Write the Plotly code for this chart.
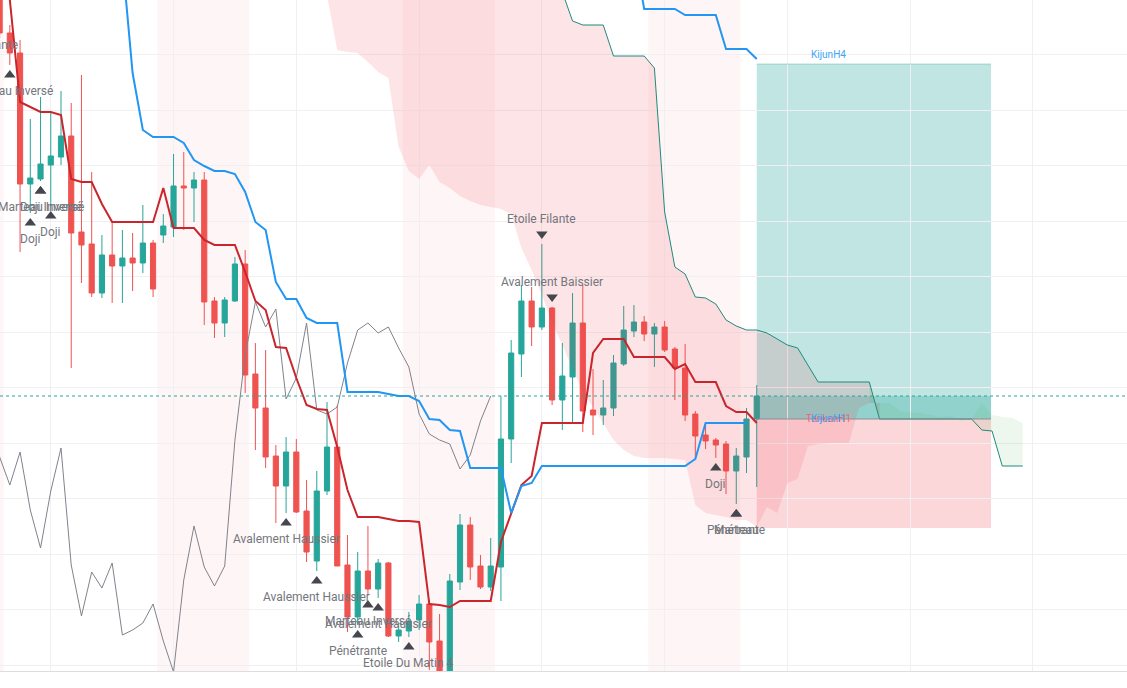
import plotly.graph_objects as go

# candle index: 0 = first full candle on the left edge (H1 candles)
idx = list(range(-2, 74))

opens = [748, 698, 655, 635, 504, 509, 523, 531, 552, 456, 444, 395, 433, 422, 430, 425,
         445, 453, 461, 502, 500, 508, 387, 365, 387, 424, 314, 280, 232, 202, 236, 177,
         127, 197, 241, 123, 71, 117, 99, 125, 52, 57, 68, 84, 47, 3, 106, 163,
         122, 101, 121, 249, 334, 387, 361, 380, 288, 311, 365, 278, 273, 280, 324, 357,
         366, 354, 361, 339, 320, 274, 253, 248, 244, 217, 231, 269]
highs = [768, 708, 663, 648, 569, 591, 575, 597, 585, 613, 516, 453, 466, 458, 455, 483,
         448, 474, 534, 536, 516, 516, 391, 391, 431, 438, 345, 338, 243, 251, 249, 208,
         217, 286, 283, 153, 136, 162, 129, 126, 65, 76, 93, 88, 74, 114, 174, 171,
         133, 150, 292, 348, 403, 401, 444, 381, 345, 395, 403, 319, 308, 333, 382, 383,
         372, 365, 367, 341, 344, 277, 264, 250, 247, 240, 280, 303]
lows = [669, 650, 623, 436, 475, 507, 482, 523, 320, 405, 391, 390, 385, 385, 397, 415,
        391, 445, 451, 458, 466, 363, 350, 351, 386, 295, 238, 220, 165, 175, 175, 126,
        117, 193, 122, 56, 63, 93, 90, 51, 46, 51, 58, 18, -2, -2, 98, 108,
        99, 97, 87, 225, 311, 342, 358, 283, 258, 266, 256, 253, 263, 272, 322, 351,
        347, 321, 336, 288, 267, 230, 239, 230, 194, 184, 215, 201]
closes = [693, 655, 635, 504, 510, 524, 532, 552, 455, 443, 395, 433, 422, 430, 425, 445,
          399, 462, 502, 500, 508, 386, 365, 388, 424, 313, 280, 231, 202, 236, 176, 136,
          197, 241, 122, 71, 117, 99, 125, 52, 58, 67, 84, 46, 13, 107, 163, 121,
          101, 122, 249, 335, 387, 361, 380, 288, 312, 365, 277, 273, 280, 325, 358, 366,
          354, 361, 338, 320, 273, 252, 247, 243, 217, 232, 269, 292]

# Tenkan H1 (same index as candles)
tenkan_h1 = [808, 748, 688, 586, 581, 576, 576, 573, 509, 506, 506, 484, 466, 466, 466, 466,
             466, 500, 460, 460, 460, 448, 443, 443, 443, 416, 387, 378, 341, 340, 310, 283,
             279, 278, 241, 198, 171, 171, 171, 169, 167, 167, 166, 84, 83, 81, 87, 87,
             87, 87, 146, 175, 203, 212, 265, 265, 265, 265, 265, 335, 349, 349, 349, 331,
             331, 331, 331, 319, 324, 306, 306, 306, 282, 276, 276, 265]

# Kijun H1 from candle 11
kijun_h1_x = list(range(11, 74))
kijun_h1 = [728, 615, 558, 551, 551, 551, 545, 528, 522, 517, 517, 514, 496, 466, 458, 406,
            389, 389, 370, 365, 365, 365, 296, 296, 296, 296, 294, 292, 292, 287, 269, 268,
            258, 257, 220, 220, 220, 220, 175, 202, 205, 222, 222, 222, 222, 222, 222, 222,
            222, 222, 222, 222, 222, 222, 222, 222, 229, 265, 265, 265, 265, 265]

# Kijun H4 from candle 61
kijun_h4_x = list(range(61, 74))
kijun_h4 = [738, 679, 679, 679, 679, 673, 673, 673, 673, 639, 639, 639, 629]

# Chikou (lagging span)
chikou_x = list(range(-2, 48))
chikou = [280, 231, 203, 236, 178, 140, 197, 240, 123, 72, 116, 100, 125, 53, 58, 65,
          84, 47, 16, 108, 162, 121, 102, 122, 248, 333, 386, 361, 379, 289, 310, 365,
          278, 274, 281, 325, 358, 365, 355, 361, 340, 321, 274, 254, 248, 244, 219, 233,
          267, 292]

# Kumo (senkou spans, shifted forward)
cloud_x = list(range(30, 100))
span_a = [728, 693, 638, 636, 635, 626, 616, 610, 541, 517,
          509, 523, 506, 500, 492, 487, 483, 481, 479, 474,
          440, 418, 393, 366, 343, 320, 296, 281, 265, 248,
          238, 232, 230, 230, 230, 229, 228, 183, 175, 173,
          171, 168, 168, 161, 181, 175, 205, 209, 242, 244,
          245, 245, 245, 280, 285, 285, 285, 277, 276, 275,
          273, 271, 272, 267, 269, 285, 273, 271, 270, 265]
span_b = [748] * 24 + [696, 667, 663, 663, 663, 632, 632, 632, 632, 620,
                       476, 421, 414, 391, 390, 384, 368, 362, 358, 358,
                       355, 349, 343, 340, 323, 306] + [306] * 5 + [269] * 10 + [258, 257, 222, 222, 222]

# session backgrounds
band_start = [-10.6, 14.4, 38.4, 62.4]
band_end = [-0.6, 23.4, 47.4, 71.4]

# long position
pos_start = 73
pos_end = 95.9
entry = 269
target = 624
stop = 160

# candle patterns
pat_idx = [-2, 0, 2, 3, 3, 4, 27, 30, 34, 35, 36, 39, 52, 53, 69, 71, 71]
pat_name = ["Pénétrante", "Marteau Inversé", "Doji", "Marteau Inversé", "Doji Inversé", "Doji",
            "Avalement Haussier", "Avalement Haussier", "Pénétrante", "Marteau Inversé",
            "Avalement Haussier", "Etoile Du Matin 4", "Etoile Filante", "Avalement Baissier",
            "Doji", "Pénétrante", "Marteau"]
pat_dir = ["up", "up", "up", "up", "up", "up", "up", "up", "up", "up", "up", "up",
           "down", "down", "up", "up", "up"]

GREEN = "#26a69a"
RED = "#ef5350"
X_MIN, X_MAX = -0.962, 109.19
PX_PER_BAR = 1127 / (X_MAX - X_MIN)

fig = go.Figure()

for a, b in zip(band_start, band_end):
    fig.add_vrect(x0=a, x1=b, fillcolor="rgba(242,54,69,0.05)", line_width=0, layer="below")

# position tool
fig.add_shape(type="rect", x0=pos_start, x1=pos_end, y0=entry, y1=target,
              fillcolor="rgba(38,166,154,0.29)", line=dict(width=0), layer="below")
fig.add_shape(type="rect", x0=pos_start, x1=pos_end, y0=stop, y1=entry,
              fillcolor="rgba(242,54,69,0.2)", line=dict(width=0), layer="below")
fig.add_shape(type="rect", x0=pos_start, x1=pos_end, y0=entry, y1=closes[-1],
              fillcolor="rgba(38,166,154,0.3)", line=dict(width=0), layer="below")
fig.add_shape(type="line", x0=pos_start, x1=pos_end, y0=entry, y1=entry,
              line=dict(color="#8a8d96", width=1))
fig.add_shape(type="line", x0=pos_start, x1=pos_end, y0=target, y1=target,
              line=dict(color="rgba(38,166,154,0.35)", width=1))

# cloud: bearish part then bullish part
n_bear = 56
fig.add_trace(go.Scatter(x=cloud_x[:n_bear], y=span_a[:n_bear], mode="lines",
                         line=dict(width=0), hoverinfo="skip"))
fig.add_trace(go.Scatter(x=cloud_x[:n_bear], y=span_b[:n_bear], mode="lines",
                         line=dict(width=0), fill="tonexty",
                         fillcolor="rgba(242,54,69,0.13)", hoverinfo="skip"))
fig.add_trace(go.Scatter(x=cloud_x[n_bear - 2:], y=span_a[n_bear - 2:], mode="lines",
                         line=dict(width=0), hoverinfo="skip"))
fig.add_trace(go.Scatter(x=cloud_x[n_bear - 2:], y=span_b[n_bear - 2:], mode="lines",
                         line=dict(width=0), fill="tonexty",
                         fillcolor="rgba(76,175,80,0.1)", hoverinfo="skip"))
fig.add_trace(go.Scatter(x=cloud_x, y=span_b, mode="lines",
                         line=dict(color="#1f8a7d", width=1), hoverinfo="skip"))

# chikou
fig.add_trace(go.Scatter(x=chikou_x, y=chikou, mode="lines",
                         line=dict(color="#80838c", width=1), hoverinfo="skip"))

fig.add_trace(go.Candlestick(
    x=idx, open=opens, high=highs, low=lows, close=closes,
    increasing=dict(line=dict(color=GREEN, width=1), fillcolor=GREEN),
    decreasing=dict(line=dict(color=RED, width=1), fillcolor=RED),
    whiskerwidth=0, hoverinfo="skip"))

fig.add_trace(go.Scatter(x=idx, y=tenkan_h1, mode="lines",
                         line=dict(color="#c8262c", width=2), hoverinfo="skip"))
fig.add_trace(go.Scatter(x=kijun_h1_x, y=kijun_h1, mode="lines",
                         line=dict(color="#2196f3", width=2), hoverinfo="skip"))
fig.add_trace(go.Scatter(x=kijun_h4_x, y=kijun_h4, mode="lines",
                         line=dict(color="#2196f3", width=2), hoverinfo="skip"))

# pattern markers and labels
label_shift = {"Doji Inversé": 10}
mx, my, ms = [], [], []
for i, name, d in zip(pat_idx, pat_name, pat_dir):
    k = idx.index(i)
    if d == "up":
        m_y = lows[k] - 10
        t_y = lows[k] - 26
        ms.append("triangle-up")
    else:
        m_y = highs[k] + 10
        t_y = highs[k] + 25
        ms.append("triangle-down")
    mx.append(i)
    my.append(m_y)
    # labels of bars left of the view are anchored at the edge and shifted
    ax = max(i, X_MIN + 0.05)
    shift = (i - ax) * PX_PER_BAR + label_shift.get(name, 0)
    fig.add_annotation(x=ax, y=t_y, text=name, showarrow=False, xshift=shift,
                       font=dict(family="Roboto", size=12, color="#74767d"))
fig.add_trace(go.Scatter(x=mx, y=my, mode="markers",
                         marker=dict(symbol=ms, size=10, color="#45474f"),
                         hoverinfo="skip"))

# line labels
fig.add_annotation(x=80, y=634, text="KijunH4", showarrow=False,
                   font=dict(family="Roboto", size=10, color="#42a5f5"))
fig.add_annotation(x=80, y=270, text="TenkanH1", showarrow=False,
                   font=dict(family="Roboto", size=10, color="#f2646e"))
fig.add_annotation(x=80, y=270, text="KijunH1", showarrow=False,
                   font=dict(family="Roboto", size=10, color="#42a5f5"))

# last price line
fig.add_shape(type="line", xref="paper", x0=0, x1=1, y0=closes[-1], y1=closes[-1],
              line=dict(color=GREEN, width=1, dash="dot"))

fig.update_layout(
    width=1127, height=688,
    margin=dict(l=0, r=0, t=0, b=17),
    plot_bgcolor="white", paper_bgcolor="white",
    showlegend=False, hovermode=False, boxgap=0.28,
)
fig.update_xaxes(range=[X_MIN, X_MAX], showgrid=True, gridcolor="#f0f0f3",
                 tick0=4, dtick=12, showticklabels=False, zeroline=False,
                 rangeslider_visible=False, showline=True, linecolor="#dcdde2")
fig.update_yaxes(range=[17, 688], showgrid=True, gridcolor="#f0f0f3",
                 tick0=23, dtick=55.5, showticklabels=False, zeroline=False)

fig.write_html("out.html", config={"displayModeBar": False},
               post_script="document.body.style.margin='0px';")
